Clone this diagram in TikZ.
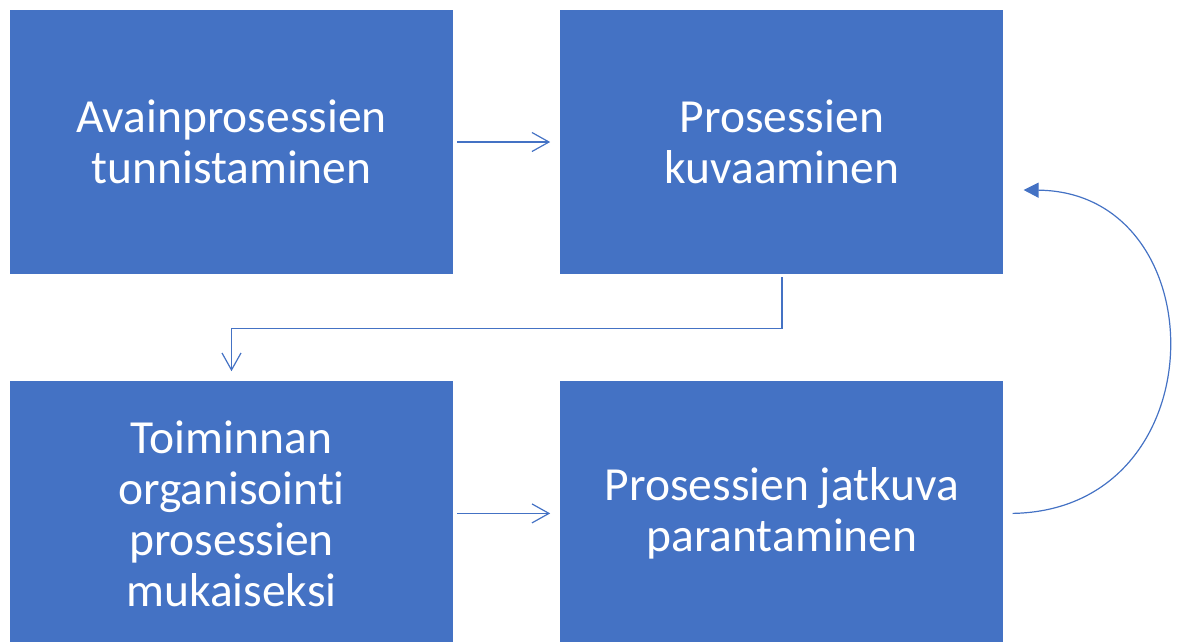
\documentclass[tikz,border=0pt]{standalone}
\usepackage{fontspec}
\setmainfont{Carlito}[Ligatures=NoCommon]
\usetikzlibrary{positioning,arrows.meta}
\definecolor{officeblue}{HTML}{4472C4}
\tikzset{
    prosbox/.style={rectangle, fill=officeblue, text=white, align=center,
        minimum width=443pt, minimum height=264pt, inner sep=0pt,
        font=\fontsize{47.5}{51}\selectfont},
    flow/.style={draw=officeblue, line width=1.2pt, -{Straight Barb[length=17pt,width=19pt]}}
}
\begin{document}
\begin{tikzpicture}[x=1pt, y=-1pt]
        \useasboundingbox (0,0) rectangle (1179,641);
        \clip (0,0) rectangle (1179,641);
        \node[prosbox] (ident) at (231.5,142) {Avainprosessien\\tunnistaminen};
        \node[prosbox, right=107pt of ident] (kuvaus) {Prosessien\\kuvaaminen};
        \node[prosbox, below=107pt of ident] (organ) {Toiminnan\\organisointi\\prosessien\\mukaiseksi};
        \node[prosbox, right=107pt of organ] (paran) {Prosessien jatkuva\\parantaminen};

        \draw[flow] ([xshift=4pt]ident.east) -- ([xshift=-10pt]kuvaus.west);
        \draw[flow] ([yshift=-3pt]kuvaus.south) -- ++(0,51) -| ([yshift=10pt]organ.north);
        \draw[flow] ([xshift=4pt]organ.east) -- ([xshift=-10pt]paran.west);
        \draw[draw=officeblue, line width=1.2pt, -{Triangle[length=15pt,width=15pt]}]
            ([xshift=9pt]paran.east) .. controls (1220,510) and (1218,192) .. ([xshift=20pt,yshift=-48pt]kuvaus.east);
    \end{tikzpicture}
\end{document}
